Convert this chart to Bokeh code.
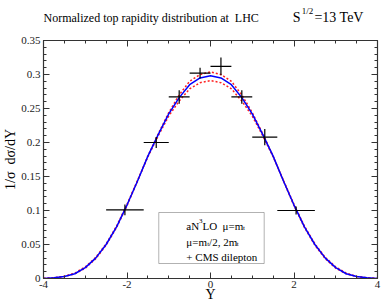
import numpy as np
from bokeh.plotting import figure
from bokeh.layouts import column
from bokeh.models import (Range1d, LinearAxis, FixedTicker, CustomJSTickFormatter,
                          Label, BoxAnnotation)
from bokeh.embed import file_html
from bokeh.resources import INLINE

# ---------------- data ----------------
rapidity = [-4.0, -3.75, -3.5, -3.25, -3.0, -2.75, -2.5, -2.25, -2.0, -1.75, -1.5, -1.25,
            -1.0, -0.75, -0.5, -0.25, 0.0, 0.25, 0.5, 0.75, 1.0, 1.25, 1.5, 1.75,
            2.0, 2.25, 2.5, 2.75, 3.0, 3.25, 3.5, 3.75, 4.0]
an3lo = [0.0, 0.001, 0.003, 0.007, 0.016, 0.030, 0.050, 0.076, 0.108, 0.143, 0.180, 0.212,
         0.242, 0.266, 0.285, 0.295, 0.298, 0.295, 0.285, 0.266, 0.242, 0.212, 0.180, 0.143,
         0.108, 0.076, 0.050, 0.030, 0.016, 0.007, 0.003, 0.001, 0.0]
scale_half = [0.0, 0.001, 0.003, 0.007, 0.015, 0.029, 0.049, 0.075, 0.107, 0.143, 0.180, 0.213,
              0.244, 0.270, 0.290, 0.300, 0.304, 0.300, 0.290, 0.270, 0.244, 0.213, 0.180, 0.143,
              0.107, 0.075, 0.049, 0.029, 0.015, 0.007, 0.003, 0.001, 0.0]
scale_two = [0.0, 0.001, 0.003, 0.008, 0.017, 0.031, 0.051, 0.077, 0.109, 0.144, 0.179, 0.210,
             0.239, 0.261, 0.279, 0.288, 0.291, 0.288, 0.279, 0.261, 0.239, 0.210, 0.179, 0.144,
             0.109, 0.077, 0.051, 0.031, 0.017, 0.008, 0.003, 0.001, 0.0]

cms_edges = [-2.5, -1.6, -1.0, -0.5, 0.0, 0.5, 1.0, 1.6, 2.5]
cms_value = [0.101, 0.200, 0.267, 0.302, 0.312, 0.267, 0.208, 0.100]
cms_error = [0.008, 0.008, 0.010, 0.008, 0.013, 0.010, 0.012, 0.006]

x_major = [-4, -2, 0, 2, 4]
y_major = [0.0, 0.05, 0.10, 0.15, 0.20, 0.25, 0.30, 0.35]
x_minor = [-4 + 0.5 * i for i in range(17)]
y_minor = [round(0.01 * i, 2) for i in range(36)]

X0, X1, Y0, Y1 = -4.0, 4.0, 0.0, 0.35

# ---------------- layout constants (page pixels) ----------------
W = 382
TITLE_H = 30
MAIN_H = 274
FL, FR, FT, FB = 38, 377, 40, 278   # frame edges on the page

SERIF = "Liberation Serif"
NB = "\u00a0"


def dx(px):
    return X0 + (px - FL) * (X1 - X0) / (FR - FL)


def dy(py):
    return Y1 - (py - FT) * (Y1 - Y0) / (FB - FT)


# ---------------- title strip ----------------
tf = figure(width=W, height=TITLE_H, output_backend="svg", toolbar_location=None,
            x_range=Range1d(FL, FR), y_range=Range1d(0, TITLE_H),
            x_axis_type=None, y_axis_type=None,
            min_border_left=FL, min_border_right=W - FR, min_border_top=0, min_border_bottom=0,
            background_fill_color="white", border_fill_color="white")
tf.outline_line_color = None
tf.grid.visible = False


def tput(text, px, py, size):
    tf.add_layout(Label(x=px, y=TITLE_H - py, text=text, text_font=SERIF,
                        text_font_size=f"{size}px", text_color="black",
                        text_baseline="alphabetic", text_align="left"))


tput("Normalized top rapidity distribution at" + NB + NB + "LHC", 38, 17, 12)
tput("S", 291, 17, 14)
tput("1/2", 300, 10, 9)
tput("=13 TeV", 313, 17, 14)

# ---------------- main plot ----------------
p = figure(width=W, height=MAIN_H, output_backend="svg", toolbar_location=None,
           x_range=Range1d(X0, X1), y_range=Range1d(Y0, Y1),
           min_border_left=FL, min_border_right=W - FR,
           min_border_top=FT - TITLE_H, min_border_bottom=TITLE_H + MAIN_H - FB,
           background_fill_color="white", border_fill_color="white")
p.outline_line_color = None
p.xgrid.visible = False
p.ygrid.visible = False

bottom_ax = p.below[0]
left_ax = p.left[0]

yfmt = CustomJSTickFormatter(code="return tick.toFixed(2).replace(/0+$/,'').replace(/\\.$/,'');")
xfmt = CustomJSTickFormatter(code="return String(tick);")

bottom_ax.ticker = FixedTicker(ticks=x_major, minor_ticks=x_minor)
bottom_ax.formatter = xfmt
left_ax.ticker = FixedTicker(ticks=y_major, minor_ticks=y_minor)
left_ax.formatter = yfmt

top_ax = LinearAxis(ticker=FixedTicker(ticks=x_major, minor_ticks=x_minor))
right_ax = LinearAxis(ticker=FixedTicker(ticks=y_major, minor_ticks=y_minor))
p.add_layout(top_ax, "above")
p.add_layout(right_ax, "right")

for ax in [bottom_ax, left_ax, top_ax, right_ax]:
    ax.axis_line_color = "#333333"
    ax.axis_line_width = 1.2
    ax.major_tick_line_color = "#333333"
    ax.minor_tick_line_color = "#333333"
    ax.major_tick_in = 6
    ax.major_tick_out = 0
    ax.minor_tick_in = 3
    ax.minor_tick_out = 0
    ax.major_label_text_font = SERIF
    ax.major_label_text_font_size = "11px"
    ax.major_label_text_color = "#222222"
    ax.major_label_standoff = 3
    ax.axis_label_text_font = SERIF
    ax.axis_label_text_font_style = "normal"
    ax.axis_label_text_color = "black"
for ax in [top_ax, right_ax]:
    ax.major_label_text_font_size = "1px"
    ax.major_label_text_color = None
    ax.major_label_standoff = 0

bottom_ax.axis_label = "Y"
bottom_ax.axis_label_text_font_size = "14px"
bottom_ax.axis_label_standoff = -4
bottom_ax.major_label_standoff = 2
left_ax.axis_label = "1/\u03c3" + NB + NB + "d\u03c3/dY"
left_ax.axis_label_text_font_size = "14px"
left_ax.axis_label_standoff = 0

# ---------------- curves ----------------
p.line(rapidity, scale_half, line_color="#ff2020", line_width=1.5, line_dash="2 2")
p.line(rapidity, scale_two, line_color="#ff2020", line_width=1.5, line_dash="2 2")
p.line(rapidity, an3lo, line_color="#0000ff", line_width=1.5)

edges = np.array(cms_edges)
centers = (edges[:-1] + edges[1:]) / 2
vals = np.array(cms_value)
errs = np.array(cms_error)
p.segment(x0=edges[:-1], y0=vals, x1=edges[1:], y1=vals, line_color="black", line_width=1.2)
p.segment(x0=centers, y0=vals - errs, x1=centers, y1=vals + errs, line_color="black", line_width=1.2)

# ---------------- legend ----------------
p.add_layout(BoxAnnotation(left=dx(155), right=dx(262), top=dy(212), bottom=dy(263),
                           fill_color="white", fill_alpha=1.0, line_color="black", line_width=1))
p.line([dx(160), dx(180)], [dy(222), dy(222)], line_color="#0000ff", line_width=1.5)
p.line([dx(160), dx(180)], [dy(238), dy(238)], line_color="#ff2020", line_width=1.5, line_dash="2 2")


def put(text, px, py, size):
    p.add_layout(Label(x=dx(px), y=dy(py), text=text, text_font=SERIF,
                       text_font_size=f"{size}px", text_color="black",
                       text_baseline="alphabetic", text_align="left"))


LX = 183
b1, b2, b3 = 225, 241, 256
put("aN", LX, b1, 11)
put("3", LX + 12.8, b1 - 5, 7)
put("LO" + NB + NB + "\u03bc=m", LX + 16.3, b1, 11)
put("t", LX + 57.6, b1 + 2, 7)
put("\u03bc=m", LX, b2, 11)
put("t", LX + 21.1, b2 + 2, 7)
put("/2, 2m", LX + 23.1, b2, 11)
put("t", LX + 51.2, b2 + 2, 7)
put("+ CMS dilepton", LX, b3, 11)

layout = column(tf, p, spacing=0)
open("out.html", "w").write(file_html(layout, INLINE))
